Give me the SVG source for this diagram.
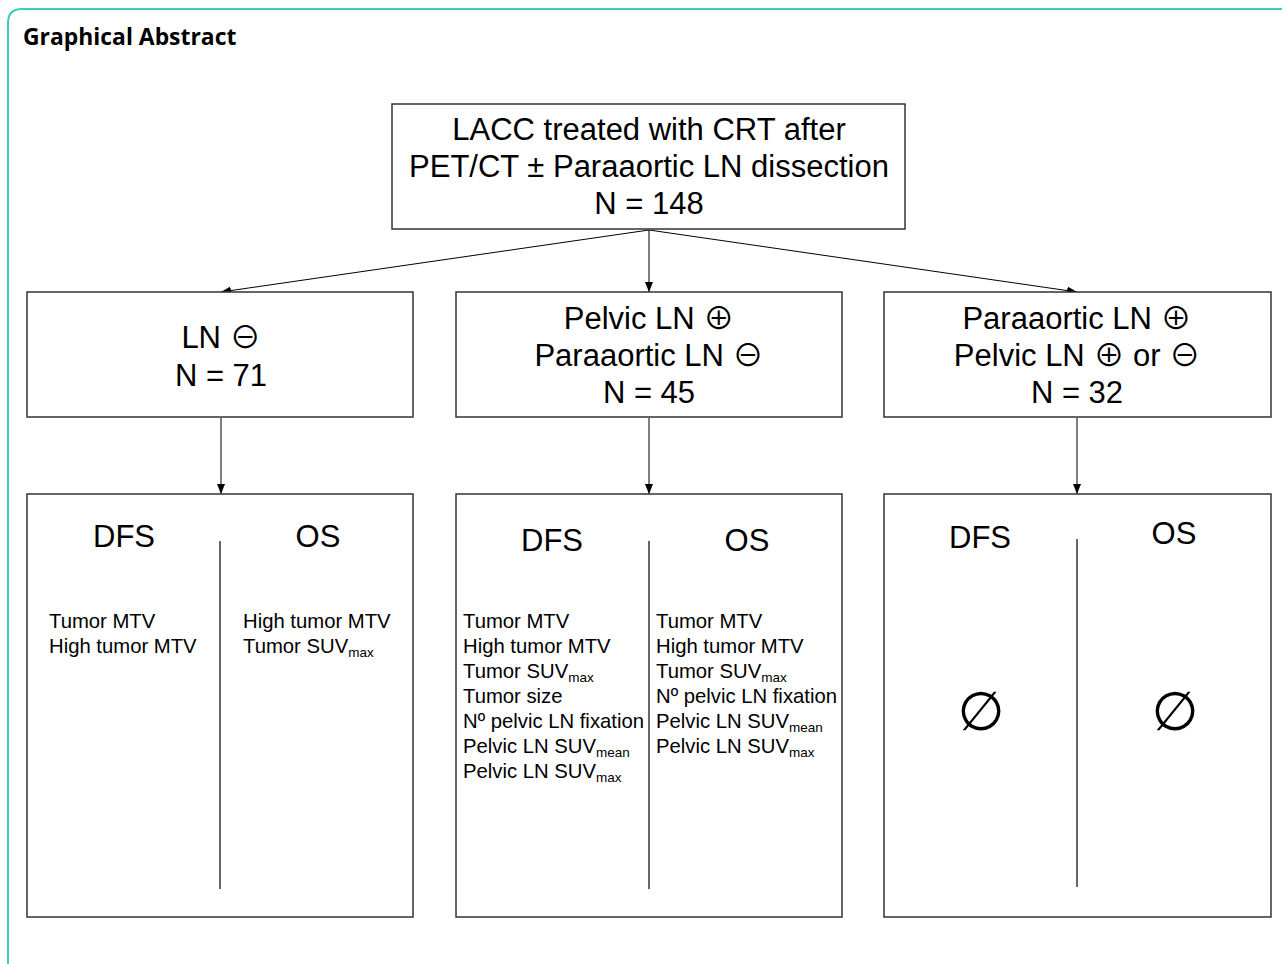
<svg xmlns="http://www.w3.org/2000/svg" width="1282" height="964" viewBox="0 0 1282 964">
<defs>
<marker id="ah" viewBox="0 0 10 10" refX="10" refY="5" markerWidth="10" markerHeight="10" markerUnits="userSpaceOnUse" orient="auto">
<path d="M0,1 L10,5 L0,9 Z" fill="#000"/>
</marker>
<style>
.box{fill:#fff;stroke:#333;stroke-width:1.5}
.big{font-family:"Liberation Sans",Arial,"DejaVu Sans",sans-serif;font-size:31px;fill:#000;text-anchor:middle}
.sm{font-family:"Liberation Sans",Arial,"DejaVu Sans",sans-serif;font-size:20.3px;fill:#000}
.sub{font-size:13.5px}
.op{font-family:"Noto Sans CJK JP","DejaVu Sans",sans-serif;font-size:31px}
.div{stroke:#333;stroke-width:1.5}
.con{stroke:#000;stroke-width:1;fill:none;marker-end:url(#ah)}
.sym{font-family:"DejaVu Sans",sans-serif;font-size:54px;fill:#000;text-anchor:middle}
</style>
</defs>
<rect width="1282" height="964" fill="#fff"/>
<path d="M1290,9 H22 Q8,9 8,23 V970" fill="none" stroke="#34d1b7" stroke-width="2"/>
<text x="23" y="45" style="font-family:'Open Sans','Noto Sans',sans-serif;font-weight:bold;font-size:22.9px;fill:#000">Graphical Abstract</text>

<g id="connectors">
<line class="con" x1="649" y1="230" x2="221" y2="292"/>
<line class="con" x1="649" y1="230" x2="649" y2="292"/>
<line class="con" x1="649" y1="230" x2="1077" y2="292"/>
<line class="con" x1="221" y1="418" x2="221" y2="494"/>
<line class="con" x1="649" y1="418" x2="649" y2="494"/>
<line class="con" x1="1077" y1="418" x2="1077" y2="494"/>
</g>

<g id="top">
<rect class="box" x="392" y="104" width="513" height="125"/>
<text class="big" x="649" y="140">LACC treated with CRT after</text>
<text class="big" x="649" y="177">PET/CT ± Paraaortic LN dissection</text>
<text class="big" x="649" y="214">N = 148</text>
</g>

<g id="ln-neg">
<rect class="box" x="27" y="292" width="386" height="125"/>
<text class="big" x="221" y="348">LN <tspan class="op">⊖</tspan></text>
<text class="big" x="221" y="386">N = 71</text>
</g>

<g id="pelvic-pos">
<rect class="box" x="456" y="292" width="386" height="125"/>
<text class="big" x="649" y="329">Pelvic LN <tspan class="op">⊕</tspan></text>
<text class="big" x="649" y="366">Paraaortic LN <tspan class="op">⊖</tspan></text>
<text class="big" x="649" y="403">N = 45</text>
</g>

<g id="paraaortic-pos">
<rect class="box" x="884" y="292" width="387" height="125"/>
<text class="big" x="1077" y="329">Paraaortic LN <tspan class="op">⊕</tspan></text>
<text class="big" x="1077" y="366">Pelvic LN <tspan class="op">⊕</tspan> or <tspan class="op">⊖</tspan></text>
<text class="big" x="1077" y="403">N = 32</text>
</g>

<g id="outcome-ln-neg">
<rect class="box" x="27" y="494" width="386" height="423"/>
<line class="div" x1="220" y1="541" x2="220" y2="889"/>
<text class="big" x="124" y="547">DFS</text>
<text class="big" x="318" y="547">OS</text>
<text class="sm" x="49" y="628">Tumor MTV</text>
<text class="sm" x="49" y="653">High tumor MTV</text>
<text class="sm" x="243" y="628">High tumor MTV</text>
<text class="sm" x="243" y="653">Tumor SUV<tspan class="sub" dy="4">max</tspan></text>
</g>

<g id="outcome-pelvic-pos">
<rect class="box" x="456" y="494" width="386" height="423"/>
<line class="div" x1="649" y1="541" x2="649" y2="889"/>
<text class="big" x="552" y="551">DFS</text>
<text class="big" x="747" y="551">OS</text>
<text class="sm" x="463" y="628">Tumor MTV</text>
<text class="sm" x="463" y="653">High tumor MTV</text>
<text class="sm" x="463" y="678">Tumor SUV<tspan class="sub" dy="4">max</tspan></text>
<text class="sm" x="463" y="703">Tumor size</text>
<text class="sm" x="463" y="728">Nº pelvic LN fixation</text>
<text class="sm" x="463" y="753">Pelvic LN SUV<tspan class="sub" dy="4">mean</tspan></text>
<text class="sm" x="463" y="778">Pelvic LN SUV<tspan class="sub" dy="4">max</tspan></text>
<text class="sm" x="656" y="628">Tumor MTV</text>
<text class="sm" x="656" y="653">High tumor MTV</text>
<text class="sm" x="656" y="678">Tumor SUV<tspan class="sub" dy="4">max</tspan></text>
<text class="sm" x="656" y="703">Nº pelvic LN fixation</text>
<text class="sm" x="656" y="728">Pelvic LN SUV<tspan class="sub" dy="4">mean</tspan></text>
<text class="sm" x="656" y="753">Pelvic LN SUV<tspan class="sub" dy="4">max</tspan></text>
</g>

<g id="outcome-paraaortic-pos">
<rect class="box" x="884" y="494" width="387" height="423"/>
<line class="div" x1="1077" y1="539" x2="1077" y2="887"/>
<text class="big" x="980" y="548">DFS</text>
<text class="big" x="1174" y="544">OS</text>
<text class="sym" x="981" y="730">∅</text>
<text class="sym" x="1175" y="730">∅</text>
</g>
</svg>
